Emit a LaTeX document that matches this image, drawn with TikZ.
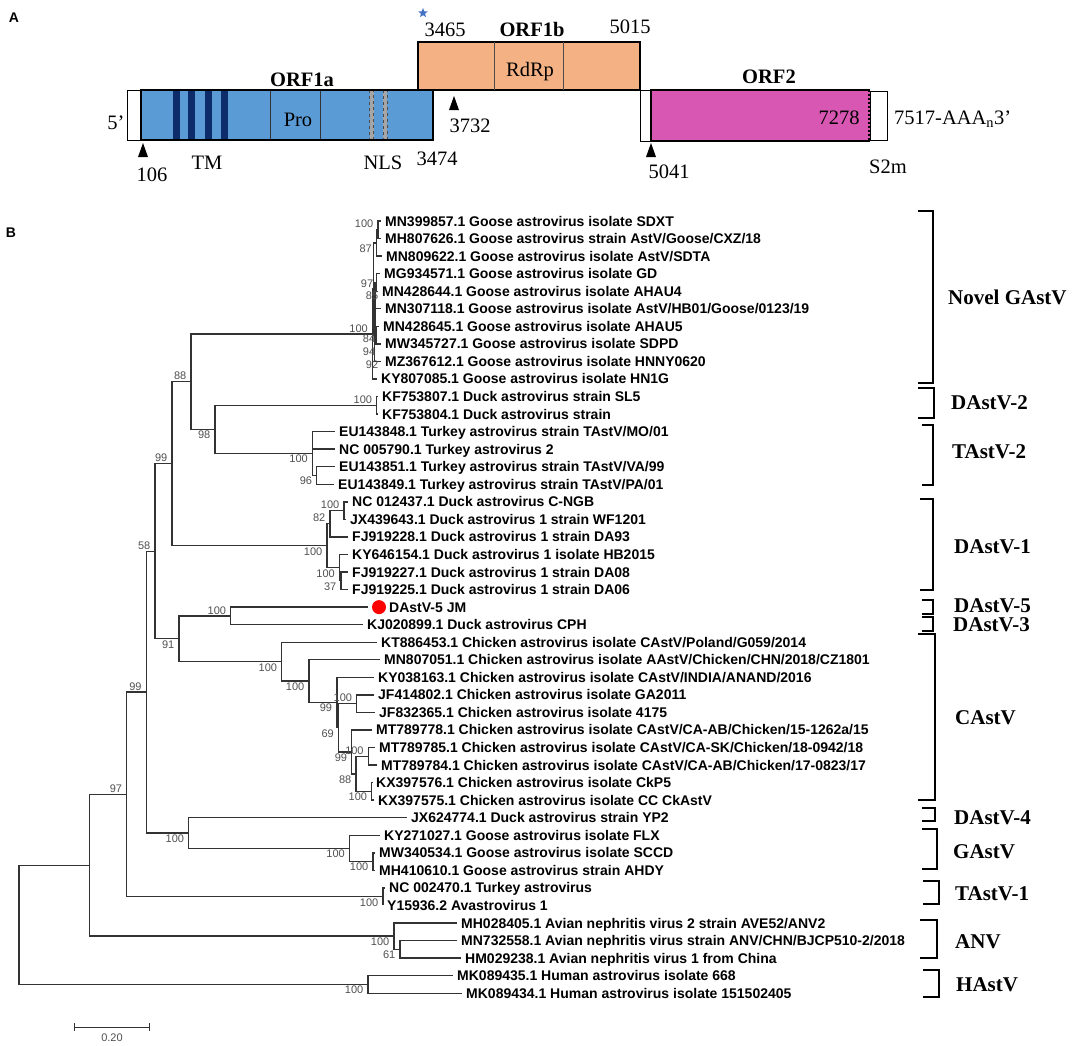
\documentclass[tikz,border=0pt]{standalone}
\usepackage{fontspec}
\setmainfont{Liberation Serif}
\setsansfont{Liberation Sans}
\usetikzlibrary{positioning, calc, shapes.geometric}

\definecolor{orfablue}{HTML}{5B9BD5}
\definecolor{tmnavy}{HTML}{0C2C6C}
\definecolor{orfbsalmon}{HTML}{F4B183}
\definecolor{orftwopink}{HTML}{D757B2}
\definecolor{starblue}{HTML}{4472C4}
\definecolor{treegrey}{HTML}{333333}
\definecolor{bootgrey}{HTML}{505050}

\tikzset{
  orfbox/.style={draw=black, line width=2pt},
  utrbox/.style={draw=black, line width=1pt, fill=white},
  mapnum/.style={font=\fontsize{20.5}{22}\selectfont, inner sep=0pt},
  orfname/.style={font=\bfseries\fontsize{20.5}{22}\selectfont, inner sep=0pt},
  panel/.style={font=\sffamily\bfseries\fontsize{14}{14}\selectfont, inner sep=0pt},
  leaf/.style={font=\sffamily\bfseries\fontsize{14}{14}\selectfont, anchor=west, inner sep=4pt, text height=10pt, text depth=0pt},
  branch/.style={draw=treegrey, line width=1.4pt},
  boot/.style={font=\sffamily\fontsize{11}{11}\selectfont, text=bootgrey, inner sep=0.5pt},
  bsa/.style={boot, anchor=south east, xshift=-4pt, yshift=1pt},
  bsb/.style={boot, anchor=north east, xshift=-4pt, yshift=-1pt},
  clade/.style={draw=black, line width=2.2pt},
  cladename/.style={font=\bfseries\fontsize{21}{21}\selectfont, anchor=west, inner sep=0pt},
  pics/startmark/.style={code={\fill[black] (-5,14) -- (5,14) -- (0,0) -- cycle;}}
}

\begin{document}
\begin{tikzpicture}[x=1pt, y=-1pt]
\useasboundingbox (0,0) rectangle (1084,1045);

% panel A: genome map
\node[panel] (panA) at (14,18) {A};

\draw[utrbox] (127,90) rectangle (141,140);
\fill[orfablue] (141,90) rectangle (433,140);
\foreach \x in {173,188,205,221}
  \fill[tmnavy] (\x,90) rectangle ++(7,50);
\draw[black!80] (270,90) -- (270,140) (320,90) -- (320,140);
\foreach \x in {369.5,383}
  \draw[fill=black!35, draw=black!70, dashed, line width=0.6pt] (\x,90) rectangle ++(4,50);
\draw[orfbox] (141,90) rectangle (433,140);

\draw[orfbox, fill=orfbsalmon] (418,42) rectangle (640,90);
\draw[black!70] (494,42) -- (494,90) (563,42) -- (563,90);

\draw[utrbox] (640,90) rectangle (651,141);
\fill[orftwopink] (651,90) rectangle (870,141);
\draw[utrbox] (870,91) rectangle (887,140);
\draw[orfbox] (870,90) -- (651,90) -- (651,141) -- (870,141);
\draw[line width=2pt, dash pattern=on 2pt off 2pt] (869,90) -- (869,141);

\node[orfname] (orf1a) at (302,80) {ORF1a};
\node[orfname] (orf1b) at (532,29) {ORF1b};
\node[orfname] (orf2) at (769,77) {ORF2};
\node[mapnum] (utr5) at (116,123) {5'};
\node[mapnum] (pro) at (298,120) {Pro};
\node[mapnum] (rdrp) at (530,72) {RdRp};
\node[mapnum] (p3465) at (445,30) {3465};
\node[star, star points=5, star point ratio=2.3, fill=starblue, inner sep=0pt, minimum size=10pt] (fsmark) at (423,13) {};
\node[mapnum] (p5015) at (630,27) {5015};
\node[mapnum] (p3732) at (470,126) {3732};
\node[mapnum] (p3474) at (437,159) {3474};
\node[mapnum] (tm) at (207,163) {TM};
\node[mapnum] (nls) at (383,163) {NLS};
\node[mapnum] (p106) at (152,175) {106};
\node[mapnum] (p7278) at (839,118) {7278};
\node[mapnum, anchor=west] (utr3) at (894,119) {7517-AAA\textsubscript{n}3'};
\node[mapnum] (p5041) at (669,172) {5041};
\node[mapnum] (s2m) at (888,167) {S2m};
\pic at (143,143) {startmark};
\pic at (454,96) {startmark};
\pic at (651,143) {startmark};

% panel B: tree
\node[panel] (panB) at (11,233) {B};

\begin{scope}[y=-17.55pt, yshift=-203.45pt]
\foreach \xe/\txt [count=\r] in {
  381/{MN399857.1 Goose astrovirus isolate SDXT},
  381/{MH807626.1 Goose astrovirus strain AstV/Goose/CXZ/18},
  382/{MN809622.1 Goose astrovirus isolate AstV/SDTA},
  380/{MG934571.1 Goose astrovirus isolate GD},
  378/{MN428644.1 Goose astrovirus isolate AHAU4},
  381/{MN307118.1 Goose astrovirus isolate AstV/HB01/Goose/0123/19},
  379/{MN428645.1 Goose astrovirus isolate AHAU5},
  381/{MW345727.1 Goose astrovirus isolate SDPD},
  381/{MZ367612.1 Goose astrovirus isolate HNNY0620},
  377/{KY807085.1 Goose astrovirus isolate HN1G},
  378/{KF753807.1 Duck astrovirus strain SL5},
  378/{KF753804.1 Duck astrovirus strain},
  335/{EU143848.1 Turkey astrovirus strain TAstV/MO/01},
  335/{NC 005790.1 Turkey astrovirus 2},
  335/{EU143851.1 Turkey astrovirus strain TAstV/VA/99},
  334/{EU143849.1 Turkey astrovirus strain TAstV/PA/01},
  348/{NC 012437.1 Duck astrovirus C-NGB},
  346/{JX439643.1 Duck astrovirus 1 strain WF1201},
  348/{FJ919228.1 Duck astrovirus 1 strain DA93},
  348/{KY646154.1 Duck astrovirus 1 isolate HB2015},
  348/{FJ919227.1 Duck astrovirus 1 strain DA08},
  348/{FJ919225.1 Duck astrovirus 1 strain DA06},
  385/{DAstV-5 JM},
  363/{KJ020899.1 Duck astrovirus CPH},
  377/{KT886453.1 Chicken astrovirus isolate CAstV/Poland/G059/2014},
  380/{MN807051.1 Chicken astrovirus isolate AAstV/Chicken/CHN/2018/CZ1801},
  374/{KY038163.1 Chicken astrovirus isolate CAstV/INDIA/ANAND/2016},
  374/{JF414802.1 Chicken astrovirus isolate GA2011},
  375/{JF832365.1 Chicken astrovirus isolate 4175},
  372/{MT789778.1 Chicken astrovirus isolate CAstV/CA-AB/Chicken/15-1262a/15},
  375/{MT789785.1 Chicken astrovirus isolate CAstV/CA-SK/Chicken/18-0942/18},
  377/{MT789784.1 Chicken astrovirus isolate CAstV/CA-AB/Chicken/17-0823/17},
  372/{KX397576.1 Chicken astrovirus isolate CkP5},
  374/{KX397575.1 Chicken astrovirus isolate CC CkAstV},
  407/{JX624774.1 Duck astrovirus strain YP2},
  380/{KY271027.1 Goose astrovirus isolate FLX},
  375/{MW340534.1 Goose astrovirus isolate SCCD},
  375/{MH410610.1 Goose astrovirus strain AHDY},
  385/{NC 002470.1 Turkey astrovirus},
  383/{Y15936.2 Avastrovirus 1},
  457/{MH028405.1 Avian nephritis virus 2 strain AVE52/ANV2},
  457/{MN732558.1 Avian nephritis virus strain ANV/CHN/BJCP510-2/2018},
  461/{HM029238.1 Avian nephritis virus 1 from China},
  453/{MK089435.1 Human astrovirus isolate 668},
  462/{MK089434.1 Human astrovirus isolate 151502405}}
  \node[leaf] (l\r) at (\xe,\r) {\txt};

\node[circle, fill=red, inner sep=0pt, minimum size=14pt, outer sep=4pt] (jmdot) at (379,23) {};

\foreach \nm/\x/\r in {
  root/19/41.105, n89/89.5/37.711, hn/368/44.5, n126/126.7/33.673,
  anv/394/41.75, anv2/400/42.5, n146/146.3/27.846, tastv1/383/39.5,
  n155/155/19.816, n189/188.7/35.875, gast/349.5/36.75, gast2/373/37.5,
  n172/172/14.828, n179/179/24.805, n191/191/10.156, n327/327/19.5,
  n330/330/18.25, n344/344/17.5, n339/339.5/20.75, n341/341/21.5,
  n215/215/12.875, n375/376.7/11.5, t312/312.5/14.25, t317/316.7/15.5,
  nov/372.5/7.4375, nA/373.5/4.875, g123/376.5/2.25, g12/378/1.5,
  nY/374.5/7.5, nQ/375/6, p45/376.5/4.5, s78/376/7.5,
  n230/230.7/23.5, n281/281.7/26.109, n309/309/27.219, n337/336.8/28.4375,
  nM/338.5/29.875, n357/356.7/28.5, n352/351.7/31.25, nP/356/32.5,
  nR2/368.3/31.5, nQ2/371.7/33.5}
  \coordinate (\nm) at (\x,\r);

\foreach \a/\b in {root/n89, root/hn, n89/n126, n89/anv, anv/anv2,
  n126/n146, n126/tastv1, n146/n155, n146/n189, n189/gast, gast/gast2,
  n155/n172, n155/n179, n172/n191, n172/n327, n191/nov, n191/n215,
  n215/n375, n215/t312, t312/t317, n327/n330, n327/n339, n330/n344,
  n339/n341, n179/n230, n179/n281, n281/n309, n309/n337, n337/nM,
  nM/n357, nM/n352, n352/nP, nP/nR2, nP/nQ2,
  nov/nA, nA/g123, nA/nY, g123/g12, nY/nQ, nQ/p45, nQ/s78}
  \draw[branch] (\a) |- (\b);

\foreach \a/\b in {g12/1, g12/2, g123/3, p45/4, p45/5, nQ/6, s78/7, s78/8,
  nY/9, nov/10, n375/11, n375/12, t312/13, t312/14, t317/15, t317/16,
  n344/17, n344/18, n330/19, n339/20, n341/21, n341/22, n230/24,
  n281/25, n309/26, n337/27, n357/28, n357/29, n352/30, nR2/31, nR2/32,
  nQ2/33, nQ2/34, n189/35, gast/36, gast2/37, gast2/38, tastv1/39,
  tastv1/40, anv/41, anv2/42, anv2/43, hn/44, hn/45}
  \draw[branch] (\a) |- (l\b.west);
\draw[branch] (n230) |- (jmdot.west);

% bootstrap values
\foreach \nm/\val in {n126/97, n146/99, n155/58, n172/99, n191/88, nov/100,
  n375/100, n344/100, n330/82, n230/100, n357/100, nR2/100, g12/100}
  \node[bsa] (bs-\nm) at (\nm) {\val};
\foreach \nm/\val in {g123/87, n215/98, t312/100, t317/96, n327/100,
  n339/100, n341/37, n179/91, n281/100, n309/100, n337/99, nM/69,
  n352/99, nP/88, nQ2/100, n189/100, gast/100, gast2/100, tastv1/100,
  anv/100, anv2/61, hn/100}
  \node[bsb] (bs-\nm) at (\nm) {\val};
\node[boot] (bs-p45) at (367,4.55) {97};
\node[boot] (bs-nA) at (372,5.25) {85};
\node[boot] (bs-nY) at (369,7.7) {84};
\node[boot] (bs-s78) at (369,8.45) {94};
\node[boot] (bs-l9) at (372,9.2) {92};
\end{scope}

% scale bar
\coordinate (sbl) at (74,1027);
\coordinate (sbr) at (150,1027);
\draw[branch, line width=1pt, |-|] (sbl) -- (sbr);
\node[boot] (sbtxt) at (112,1038) {0.20};

% clade brackets
\foreach \xa/\xb/\ya/\yb/\ly/\lx/\nm/\txt in {
  918/933/211/383/297/948/cnovel/{Novel GAstV},
  918/934/388/418/403/951/cdtwo/{DAstV-2},
  922/933/425/485/452/952/cttwo/{TAstV-2},
  920/933/499/590/547/954/cdone/{DAstV-1},
  922/933/600/614/606/954/cdfive/{DAstV-5},
  922/933/617/631/625/953/cdthree/{DAstV-3},
  918/935/634/800/718/955/ccastv/{CAstV},
  922/935/808/821/818/954/cdfour/{DAstV-4},
  922/937/829/869/852/953/cgastv/{GAstV},
  923/939/881/904/894/955/ctone/{TAstV-1},
  920/937/920/958/942/955/canv/{ANV},
  923/939/970/997/985/956/chastv/{HAstV}}
{
  \draw[clade] (\xa,\ya) -- (\xb,\ya) -- (\xb,\yb) -- (\xa,\yb);
  \node[cladename] (\nm) at (\lx,\ly) {\txt};
}
\end{tikzpicture}
\end{document}
